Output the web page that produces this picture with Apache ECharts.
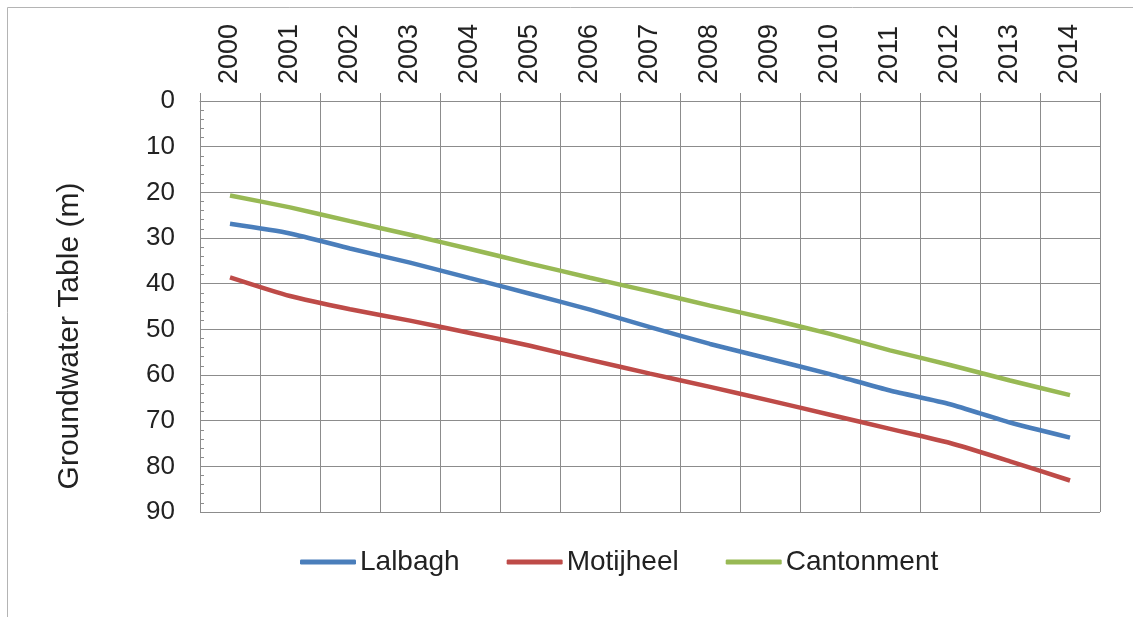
<!DOCTYPE html>
<html>
<head>
<meta charset="utf-8">
<script src="https://cdn.jsdelivr.net/npm/echarts@6/dist/echarts.min.js"></script>
<style>
  html, body { margin: 0; padding: 0; background: #fff; }
  #chart { width: 1133px; height: 617px; }
</style>
</head>
<body>
<div id="chart"></div>
<script>
// years along the top axis
const years = ["2000", "2001", "2002", "2003", "2004", "2005", "2006", "2007",
  "2008", "2009", "2010", "2011", "2012", "2013", "2014"];
// groundwater table depth (m)
const lalbagh = [26.9, 29.0, 32.3, 35.4, 38.8, 42.2, 45.7, 49.5, 53.2, 56.5, 59.8, 63.4, 66.4, 70.4, 73.7];
const motijheel = [38.6, 42.7, 45.6, 48.1, 50.8, 53.6, 56.7, 59.7, 62.6, 65.6, 68.7, 71.8, 74.9, 78.9, 83.1];
const cantonment = [20.7, 23.3, 26.3, 29.3, 32.4, 35.6, 38.7, 41.7, 44.8, 47.8, 51.0, 54.6, 57.8, 61.2, 64.4];

const font = "Liberation Sans, Arial, sans-serif";
const gridColor = "#8c8c8c";

const chart = echarts.init(document.getElementById("chart"));

function lineSeries(name, data, color) {
  return {
    name: name,
    type: "line",
    data: data,
    symbol: "none",
    smooth: 0.2,
    lineStyle: { color: color, width: 4.5 },
    itemStyle: { color: color },
  };
}

const option = {
  animation: false,
  backgroundColor: "#fff",
  grid: { left: 200, right: 33, top: 101, bottom: 105 },
  graphic: [
    {
      type: "rect",
      shape: { x: 7.5, y: 7.5, width: 1200, height: 700 },
      style: { fill: null, stroke: "#b4b4b4", lineWidth: 1 },
      silent: true,
    },
    {
      // y axis title
      type: "text",
      x: 70,
      y: 336,
      rotation: Math.PI / 2,
      style: {
        text: "Groundwater Table (m)",
        font: "30px " + font,
        fill: "#222",
        textAlign: "center",
        textVerticalAlign: "middle",
      },
    },
  ],
  legend: {
    data: ["Lalbagh", "Motijheel", "Cantonment"],
    left: 300,
    top: 548,
    padding: 0,
    icon: "roundRect",
    itemWidth: 56,
    itemHeight: 5,
    itemGap: 47,
    textStyle: { fontSize: 28, fontFamily: font, color: "#222", padding: [0, 0, 0, -1] },
  },
  xAxis: {
    type: "category",
    position: "top",
    data: years,
    boundaryGap: true,
    axisLine: { show: true, lineStyle: { color: gridColor, width: 1 } },
    axisTick: { show: true, length: 8, interval: 0, lineStyle: { color: gridColor } },
    axisLabel: {
      rotate: 90,
      interval: 0,
      margin: 17,
      fontSize: 27,
      fontFamily: font,
      color: "#222",
    },
    splitLine: { show: true, interval: 0, lineStyle: { color: gridColor, width: 1 } },
  },
  yAxis: {
    type: "value",
    inverse: true,
    min: 0,
    max: 90,
    interval: 10,
    axisLine: { show: true, lineStyle: { color: gridColor, width: 1 } },
    axisTick: { show: true, inside: true, length: 5, lineStyle: { color: gridColor } },
    minorTick: { show: true, splitNumber: 5, length: 4, lineStyle: { color: gridColor } },
    axisLabel: { margin: 25, fontSize: 26, fontFamily: font, color: "#222" },
    splitLine: { show: true, lineStyle: { color: gridColor, width: 1 } },
  },
  series: [
    lineSeries("Lalbagh", lalbagh, "#4a7ebb"),
    lineSeries("Motijheel", motijheel, "#be4b48"),
    lineSeries("Cantonment", cantonment, "#98b954"),
  ],
};

chart.setOption(option);
</script>
</body>
</html>
